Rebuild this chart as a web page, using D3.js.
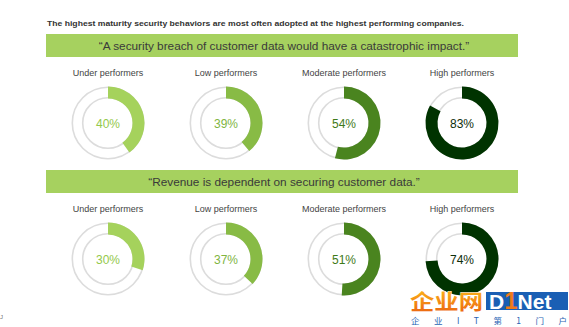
<!DOCTYPE html>
<html>
<head>
<meta charset="utf-8">
<script src="https://cdn.jsdelivr.net/npm/d3@7"></script>
<style>
  html, body { margin: 0; padding: 0; background: #fff; }
  svg { display: block; }
</style>
</head>
<body>
<svg id="chart" width="569" height="327"></svg>
<script>
// ---- data ----
const title = "The highest maturity security behaviors are most often adopted at the highest performing companies.";
const categories = ["Under performers", "Low performers", "Moderate performers", "High performers"];
const statements = [
  "\u201CA security breach of customer data would have a catastrophic impact.\u201D",
  "\u201CRevenue is dependent on securing customer data.\u201D"
];
const breachValues = [40, 39, 54, 83];
const revenueValues = [30, 37, 51, 74];

// ---- styles ----
const arcColors = ["#a5d25c", "#88bb45", "#4a841f", "#003300"];
const textColors = ["#94c94c", "#80b53f", "#3f7a1a", "#0e2e0a"];
const bandColor = "#a6d15f";
const font = "'Liberation Sans', Arial, Helvetica, sans-serif";

const svg = d3.select("#chart");

const x = d3.scalePoint().domain(categories).range([108, 462]);
const rowY = d3.scalePoint().domain(statements).range([123, 259]);
const angle = d3.scaleLinear().domain([0, 100]).range([0, 2 * Math.PI]);
const rOuter = 36.5, rInner = 24.5;

// title
svg.append("text")
  .attr("x", 47).attr("y", 25.5)
  .attr("font-family", font).attr("font-weight", "bold")
  .attr("font-size", 8).attr("fill", "#333")
  .attr("textLength", 417).attr("lengthAdjust", "spacingAndGlyphs")
  .text(title);

const rows = [
  { statement: statements[0], values: breachValues },
  { statement: statements[1], values: revenueValues }
];

const arc = d3.arc().innerRadius(rInner).outerRadius(rOuter).startAngle(0);

rows.forEach(row => {
  const cy = rowY(row.statement);
  const bandTop = cy - 89;
  svg.append("rect")
    .attr("x", 46).attr("y", bandTop)
    .attr("width", 472).attr("height", 23)
    .attr("fill", bandColor);
  svg.append("text")
    .attr("x", 284).attr("y", bandTop + 16)
    .attr("text-anchor", "middle")
    .attr("font-family", font).attr("font-size", 11.8)
    .attr("fill", "#3a3a3a")
    .text(row.statement);

  const g = svg.append("g");
  const cells = g.selectAll("g.cell")
    .data(categories.map((c, i) => ({ cat: c, v: row.values[i], i })))
    .join("g")
    .attr("class", "cell")
    .attr("transform", d => `translate(${x(d.cat)},${cy})`);

  cells.append("text")
    .attr("y", -47).attr("text-anchor", "middle")
    .attr("font-family", font).attr("font-size", 9)
    .attr("fill", "#444")
    .text(d => d.cat);

  // track
  cells.append("circle").attr("r", rOuter - 0.8)
    .attr("fill", "#fff").attr("stroke", "#dcdcdc").attr("stroke-width", 1.6);
  cells.append("circle").attr("r", rInner + 0.8)
    .attr("fill", "#fff").attr("stroke", "#dcdcdc").attr("stroke-width", 1.6);

  cells.append("path")
    .attr("d", d => arc({ endAngle: angle(d.v) }))
    .attr("fill", d => arcColors[d.i]);

  cells.append("text")
    .attr("y", 4.5).attr("text-anchor", "middle")
    .attr("font-family", font).attr("font-size", 12)
    .attr("fill", d => textColors[d.i])
    .text(d => d.v + "%");
});

// small mark bottom-left
svg.append("text").attr("x", 0).attr("y", 319)
  .attr("font-family", font).attr("font-size", 6).attr("fill", "#777").text("J");

// watermark
const defs = svg.append("defs");
const grad = defs.append("linearGradient").attr("id", "wmg")
  .attr("x1", 0).attr("y1", 0).attr("x2", 0).attr("y2", 1);
grad.append("stop").attr("offset", "0%").attr("stop-color", "#ffc21a");
grad.append("stop").attr("offset", "100%").attr("stop-color", "#ea5f10");

svg.append("text")
  .attr("x", 410).attr("y", 309)
  .attr("font-family", "'Noto Sans CJK SC', sans-serif").attr("font-weight", "bold")
  .attr("font-size", 21)
  .attr("textLength", 73).attr("lengthAdjust", "spacingAndGlyphs")
  .attr("fill", "url(#wmg)").attr("stroke", "#fff").attr("stroke-width", 0.8)
  .attr("paint-order", "stroke")
  .text("企业网");

svg.append("rect").attr("x", 486).attr("y", 292).attr("width", 82).attr("height", 18)
  .attr("fill", "#1a5fb4");
const dnet = svg.append("text")
  .attr("x", 489).attr("y", 309)
  .attr("font-family", font).attr("font-weight", "bold").attr("font-size", 21);
dnet.append("tspan").attr("fill", "#fff").text("D");
dnet.append("tspan").attr("fill", "#f07a1a").attr("font-size", 24).text("1");
dnet.append("tspan").attr("fill", "#fff").text("Net");

svg.append("text")
  .attr("x", 411).attr("y", 323.5)
  .attr("font-family", "'Noto Sans CJK SC', sans-serif")
  .attr("font-size", 8.5).attr("fill", "#2a64b4")
  .attr("textLength", 156).attr("lengthAdjust", "spacing")
  .text("企 业 I T 第 1 门 户");
</script>
</body>
</html>
